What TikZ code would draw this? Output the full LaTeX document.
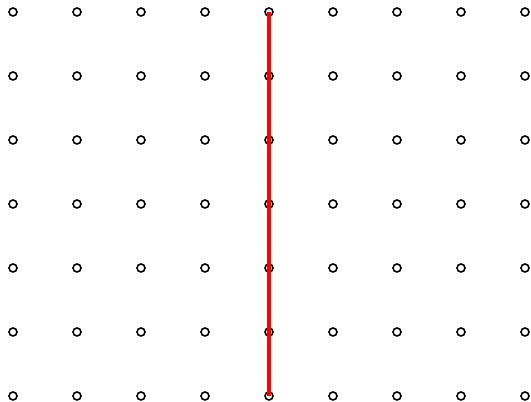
\documentclass[tikz,border=0pt]{standalone}
\usetikzlibrary{positioning}
\definecolor{Ink}{HTML}{000000}
\definecolor{Path}{HTML}{FF0000}
\tikzset{
  dot/.style={
    circle, draw=Ink, line width=0.7pt, fill=white,
    minimum size=0.125cm, inner sep=0pt
  },
  walk/.style={line width=1.35pt, draw=Path}
}
\begin{document}
\begin{tikzpicture}
        \useasboundingbox (-0.203125,-0.09375) rectangle (8.09375,6.1875);
        \foreach \i in {0,...,8} {
          \foreach \j in {0,...,6} {
            \node[dot] (p-\i-\j) at (\i,\j) {};
          }
        }
        \draw[walk] (p-4-6.center)--(p-4-0.center);
      \end{tikzpicture}
\end{document}
